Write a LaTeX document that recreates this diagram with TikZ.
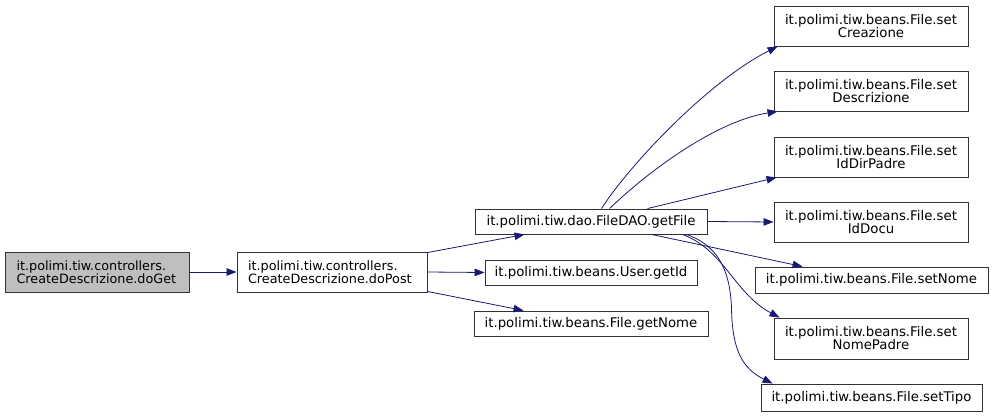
\documentclass[tikz,border=0pt]{standalone}
\usepackage{fontspec}
\setmainfont{DejaVu Sans}
\usetikzlibrary{arrows.meta,calc}
\definecolor{edgeblue}{RGB}{25,25,112}
\definecolor{boxgray}{RGB}{191,191,191}
\definecolor{boxline}{RGB}{50,50,50}
\begin{document}
\begin{tikzpicture}[x=1pt,y=-1pt,
  box/.style={draw=boxline,line width=0.9pt,fill=white,inner sep=0pt,
    font=\fontsize{13.3}{13}\selectfont,align=center},
  lbox/.style={box,align=left,font=\fontsize{12.8}{13}\selectfont},
  call/.style={draw=edgeblue,line width=0.8pt,-{Triangle[length=10pt,width=7.5pt]}}]
\useasboundingbox (0,0) rectangle (993,417);
% nodes
\node[lbox,fill=boxgray,minimum width=184pt,minimum height=40pt,text width=161pt] (doGet) at (97,272) {it.polimi.tiw.controllers.\\CreateDescrizione.doGet};
\node[lbox,minimum width=190pt,minimum height=40pt,text width=168pt] (doPost) at (332,272) {it.polimi.tiw.controllers.\\CreateDescrizione.doPost};
\node[box,minimum width=232pt,minimum height=25pt] (getFile) at (591,221.5) {it.polimi.tiw.dao.FileDAO.getFile};
\node[box,minimum width=212pt,minimum height=25pt] (getId) at (591,272.5) {it.polimi.tiw.beans.User.getId};
\node[box,minimum width=234pt,minimum height=25pt] (getNome) at (591,323.5) {it.polimi.tiw.beans.File.getNome};
\node[box,minimum width=194pt,minimum height=40pt] (setCreazione) at (871,26) {it.polimi.tiw.beans.File.set\\Creazione};
\node[box,minimum width=194pt,minimum height=40pt] (setDescrizione) at (871,91) {it.polimi.tiw.beans.File.set\\Descrizione};
\node[box,minimum width=194pt,minimum height=40pt] (setIdDirPadre) at (871,157) {it.polimi.tiw.beans.File.set\\IdDirPadre};
\node[box,minimum width=194pt,minimum height=40pt] (setIdDocu) at (871,222) {it.polimi.tiw.beans.File.set\\IdDocu};
\node[box,minimum width=233pt,minimum height=26pt] (setNome) at (871.5,280) {it.polimi.tiw.beans.File.setNome};
\node[box,minimum width=194pt,minimum height=41pt] (setNomePadre) at (871,338.5) {it.polimi.tiw.beans.File.set\\NomePadre};
\node[box,minimum width=221pt,minimum height=27pt] (setTipo) at (871.5,397.5) {it.polimi.tiw.beans.File.setTipo};
% edges
\draw[call] (doGet.east) -- (doPost.west);
\draw[call] ($(doPost.north east)+(0,1)$) -- ($(getFile.south west)+(50,0)$);
\draw[call] (doPost.east) -- (getId.west);
\draw[call] ($(doPost.south east)+(0,-1)$) -- ($(getNome.north west)+(50,0)$);
\draw[call] ($(getFile.north west)+(127,0)$) .. controls +(28,-44) and +(-68,34) .. ($(setCreazione.south west)+(4,0)$);
\draw[call] ($(getFile.north west)+(135,0)$) .. controls +(45,-43) and +(-58,9) .. ($(setDescrizione.south west)+(4,0)$);
\draw[call] ($(getFile.north west)+(173,0)$) -- ($(setIdDirPadre.south west)+(3,0)$);
\draw[call] (getFile.east) -- (setIdDocu.west);
\draw[call] ($(getFile.south west)+(177,0)$) -- ($(setNome.north west)+(48,0)$);
\draw[call] ($(getFile.south west)+(208,0)$) .. controls +(42,16) and +(-45,-24) .. ($(setNomePadre.north west)+(6,0)$);
\draw[call] ($(getFile.south west)+(212,0)$) .. controls +(28,10) and +(-1,-45) .. ($(getFile.south west)+(257,76)$) .. controls +(1,40) and +(-30,-15) .. ($(setTipo.north west)+(12,0)$);
\end{tikzpicture}
\end{document}
